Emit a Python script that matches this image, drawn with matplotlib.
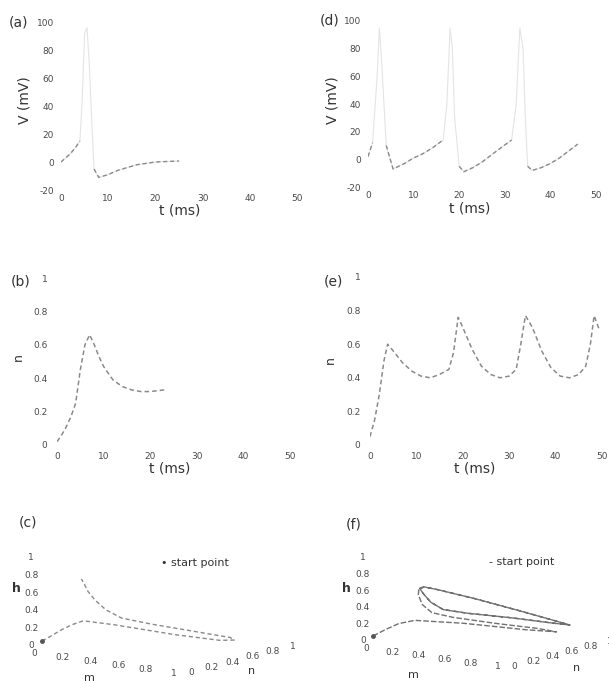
import numpy as np
import matplotlib
matplotlib.use('Agg')
import matplotlib.pyplot as plt
from matplotlib.ticker import FuncFormatter
from mpl_toolkits.mplot3d import proj3d

# ---- data ----
# (a) single spike, V (mV) vs t (ms)
t_a = [0, 1, 2, 3, 4, 4.5, 5, 5.5, 6, 6.5, 7, 8, 10, 12, 14, 16, 18, 20, 22, 25]
V_a = [0, 3, 6, 10, 15, 45, 92, 96, 70, 30, -5, -11, -9, -6, -4, -2, -1, 0, 0.3, 0.7]

# (d) repetitive firing
t_d = [0, 1, 2, 2.5, 3, 4, 5.5, 8, 10, 12, 14, 16.5, 17.3, 18, 18.5, 19, 20, 21,
       23, 25, 27, 29, 31.5, 32.5, 33.3, 34, 34.5, 35, 36, 38, 40, 42, 44, 46]
V_d = [2, 12, 60, 95, 70, 10, -7, -3, 1, 4, 8, 14, 40, 95, 80, 30, -5, -9,
       -6, -2, 3, 8, 14, 40, 95, 80, 30, -5, -8, -6, -3, 1, 6, 11]

# (b) gating variable n for the single spike
t_b = [0, 1, 2, 3, 4, 5, 6, 7, 8, 9, 10, 12, 14, 16, 18, 20, 23]
n_b = [0.02, 0.06, 0.11, 0.17, 0.25, 0.45, 0.6, 0.66, 0.6, 0.53, 0.47, 0.39,
       0.35, 0.33, 0.32, 0.32, 0.33]

# (e) gating variable n for repetitive firing
t_e = [0, 1, 2, 3, 3.8, 5, 7, 9, 11, 13, 15, 17, 18, 19, 20, 22, 24, 26, 28, 30,
       31.5, 32.5, 33.5, 35, 37, 39, 41, 43, 45, 46.5, 47.5, 48.3, 49.5]
n_e = [0.05, 0.15, 0.3, 0.5, 0.6, 0.56, 0.49, 0.44, 0.41, 0.40, 0.42, 0.45, 0.55,
       0.76, 0.7, 0.57, 0.47, 0.42, 0.40, 0.41, 0.45, 0.6, 0.77, 0.7, 0.56, 0.46,
       0.41, 0.40, 0.42, 0.47, 0.6, 0.77, 0.68]

# (c) trajectory in (m, n, h) space, single spike
m_c = [0, 0.03, 0.05, 0.07, 0.1, 0.3, 0.7, 0.95, 0.98, 0.9, 0.6, 0.3, 0.12, 0.06,
       0.04, 0.04, 0.05, 0.05]
n_c = [0, 0.05, 0.12, 0.2, 0.27, 0.3, 0.35, 0.45, 0.55, 0.62, 0.65, 0.66, 0.62,
       0.55, 0.47, 0.4, 0.35, 0.32]
h_c = [0, 0.05, 0.1, 0.14, 0.17, 0.16, 0.12, 0.08, 0.06, 0.05, 0.05, 0.06, 0.1,
       0.2, 0.33, 0.45, 0.55, 0.62]

# (f) trajectory in (m, n, h) space, limit cycle
m_f = [0, 0.02, 0.05, 0.1, 0.4, 0.8, 0.96, 0.8, 0.5, 0.2, 0.07, 0.04, 0.04, 0.05,
       0.06, 0.15, 0.4, 0.7, 0.92, 0.96, 0.8, 0.5, 0.2, 0.07, 0.04, 0.04, 0.05,
       0.06, 0.15, 0.4, 0.7, 0.92, 0.96, 0.8, 0.5, 0.2, 0.07, 0.04, 0.04, 0.05]
n_f = [0, 0.1, 0.2, 0.3, 0.4, 0.5, 0.6, 0.62, 0.6, 0.56, 0.52, 0.46, 0.42, 0.41,
       0.45, 0.47, 0.52, 0.58, 0.66, 0.74, 0.77, 0.76, 0.72, 0.64, 0.55, 0.47,
       0.42, 0.45, 0.47, 0.52, 0.58, 0.66, 0.74, 0.77, 0.76, 0.72, 0.64, 0.55,
       0.47, 0.42]
h_f = [0, 0.05, 0.1, 0.12, 0.12, 0.1, 0.08, 0.08, 0.08, 0.1, 0.14, 0.25, 0.38,
       0.44, 0.47, 0.45, 0.38, 0.28, 0.18, 0.12, 0.1, 0.1, 0.1, 0.14, 0.25, 0.38,
       0.46, 0.47, 0.45, 0.38, 0.28, 0.18, 0.12, 0.1, 0.1, 0.1, 0.14, 0.25, 0.38,
       0.46]

v_ticks = [-20, 0, 20, 40, 60, 80, 100]
t_ticks = [0, 10, 20, 30, 40, 50]
gate_ticks = [0, 0.2, 0.4, 0.6, 0.8, 1]

W, H = 609, 684
TXT = '#333333'
TICK = '#4a4a4a'
LINE = '#8a8a8a'
FAINT = '#e4e4e4'

fig = plt.figure(figsize=(W / 100, H / 100), dpi=100)
fmt = FuncFormatter(lambda v, p: '%g' % v)


def px_axes(x0, x1, y0, y1, **kw):
    # axes placed by pixel corners (top-left origin)
    return fig.add_axes([x0 / W, 1 - y1 / H, (x1 - x0) / W, (y1 - y0) / H], **kw)


def ftext(x, y, s, **kw):
    kw.setdefault('ha', 'center')
    kw.setdefault('va', 'center')
    kw.setdefault('color', TXT)
    fig.text(x / W, 1 - y / H, s, **kw)


def style2d(ax, xpad, ypad):
    for s in ax.spines.values():
        s.set_visible(False)
    ax.tick_params(axis='x', length=0, labelsize=6.5, colors=TICK, pad=xpad)
    ax.tick_params(axis='y', length=0, labelsize=6.5, colors=TICK, pad=ypad)
    ax.set_xlim(0, 50)
    ax.set_xticks(t_ticks)
    ax.xaxis.set_major_formatter(fmt)
    ax.yaxis.set_major_formatter(fmt)
    ax.patch.set_alpha(0)


# (a)
ax = px_axes(61, 297, 22, 190)
style2d(ax, 3, 5)
ax.set_ylim(-20, 100)
ax.set_yticks(v_ticks)
Va = np.array(V_a, dtype=float)
ax.plot(t_a, Va, color=FAINT, lw=0.8)
ax.plot(t_a, np.where(Va <= 20, Va, np.nan), color=LINE, lw=1, ls=(0, (3, 2)))
ftext(18, 22, '(a)', fontsize=10)
ftext(25, 100, 'V (mV)', fontsize=10, rotation=90)
ftext(180, 210, 't (ms)', fontsize=10)

# (d)
ax = px_axes(368, 596, 21, 187)
style2d(ax, 3, 5)
ax.set_ylim(-20, 100)
ax.set_yticks(v_ticks)
Vd = np.array(V_d, dtype=float)
ax.plot(t_d, Vd, color=FAINT, lw=0.8)
ax.plot(t_d, np.where(Vd <= 20, Vd, np.nan), color=LINE, lw=1, ls=(0, (3, 2)))
ftext(330, 21, '(d)', fontsize=10)
ftext(332, 100, 'V (mV)', fontsize=10, rotation=90)
ftext(470, 208, 't (ms)', fontsize=10)

# (b)
ax = px_axes(57, 290, 278, 445)
style2d(ax, 5, 7)
ax.set_ylim(0, 1)
ax.set_yticks(gate_ticks)
ax.plot(t_b, n_b, color=LINE, lw=1.1, ls=(0, (3, 2)))
ftext(21, 282, '(b)', fontsize=10)
ftext(18, 357, 'n', fontsize=9, rotation=90)
ftext(170, 468, 't (ms)', fontsize=10)

# (e)
ax = px_axes(370, 602, 277, 445)
style2d(ax, 5, 7)
ax.set_ylim(0, 1)
ax.set_yticks(gate_ticks)
ax.plot(t_e, n_e, color=LINE, lw=1.1, ls=(0, (3, 2)))
ftext(333, 282, '(e)', fontsize=10)
ftext(330, 360, 'n', fontsize=9, rotation=90)
ftext(475, 468, 't (ms)', fontsize=10)


def style3d(ax, zoom):
    ax.view_init(elev=11, azim=-54)
    ax.set_box_aspect((1, 1, 0.52), zoom=zoom)
    ax.set_xlim(0, 1)
    ax.set_ylim(0, 1)
    ax.set_zlim(0, 1)
    ax.grid(False)
    ax.patch.set_alpha(0)
    for axis in (ax.xaxis, ax.yaxis, ax.zaxis):
        axis.set_pane_color((1, 1, 1, 0))
        axis.line.set_color((1, 1, 1, 0))
        axis.set_ticks(gate_ticks)
        axis.set_major_formatter(fmt)
    ax.zaxis.set_ticks_position('lower')
    ax.tick_params(axis='both', labelsize=6.5, labelcolor=TICK, color=(1, 1, 1, 0), pad=-3)
    ax.tick_params(axis='z', pad=-5)


def pin_origin(ax, tx, ty):
    # shift the 3D axes so the point (0, 0, 0) lands on pixel (tx, ty)
    fig.canvas.draw()
    x2, y2, _ = proj3d.proj_transform(0, 0, 0, ax.get_proj())
    dx, dy = ax.transData.transform((x2, y2))
    pos = ax.get_position(original=True)
    ax.set_position([pos.x0 + (tx - dx) / W, pos.y0 + ((H - ty) - dy) / H,
                     pos.width, pos.height])


# (c)
ax_c = px_axes(0, 320, 502, 682, projection='3d', proj_type='ortho')
style3d(ax_c, 1.4)
ax_c.plot(m_c, n_c, h_c, color=LINE, lw=1, ls=(0, (3, 2)), clip_on=False)
ax_c.plot(m_c[:1], n_c[:1], h_c[:1], 'o', color='#555555', ms=2.5, clip_on=False)
ftext(28, 522, '(c)', fontsize=10)
ftext(195, 563, '\u2022 start point', fontsize=8)
ftext(16, 588, 'h', fontsize=9, fontweight='bold')
ftext(89, 678, 'm', fontsize=8)
ftext(252, 671, 'n', fontsize=8)

# (f)
ax_f = px_axes(324, 644, 501, 681, projection='3d', proj_type='ortho')
style3d(ax_f, 1.32)
ax_f.plot(m_f, n_f, h_f, color='#707070', lw=1, ls=(0, (4, 1.5)), clip_on=False)
ax_f.plot(m_f[:1], n_f[:1], h_f[:1], 'o', color='#555555', ms=2.5, clip_on=False)
ftext(354, 525, '(f)', fontsize=10)
ftext(522, 562, '- start point', fontsize=8)
ftext(346, 588, 'h', fontsize=9, fontweight='bold')
ftext(413, 675, 'm', fontsize=8)
ftext(577, 668, 'n', fontsize=8)

pin_origin(ax_c, 42, 641)
pin_origin(ax_f, 373, 636)

fig.savefig('out.png', dpi=100, facecolor='white')
